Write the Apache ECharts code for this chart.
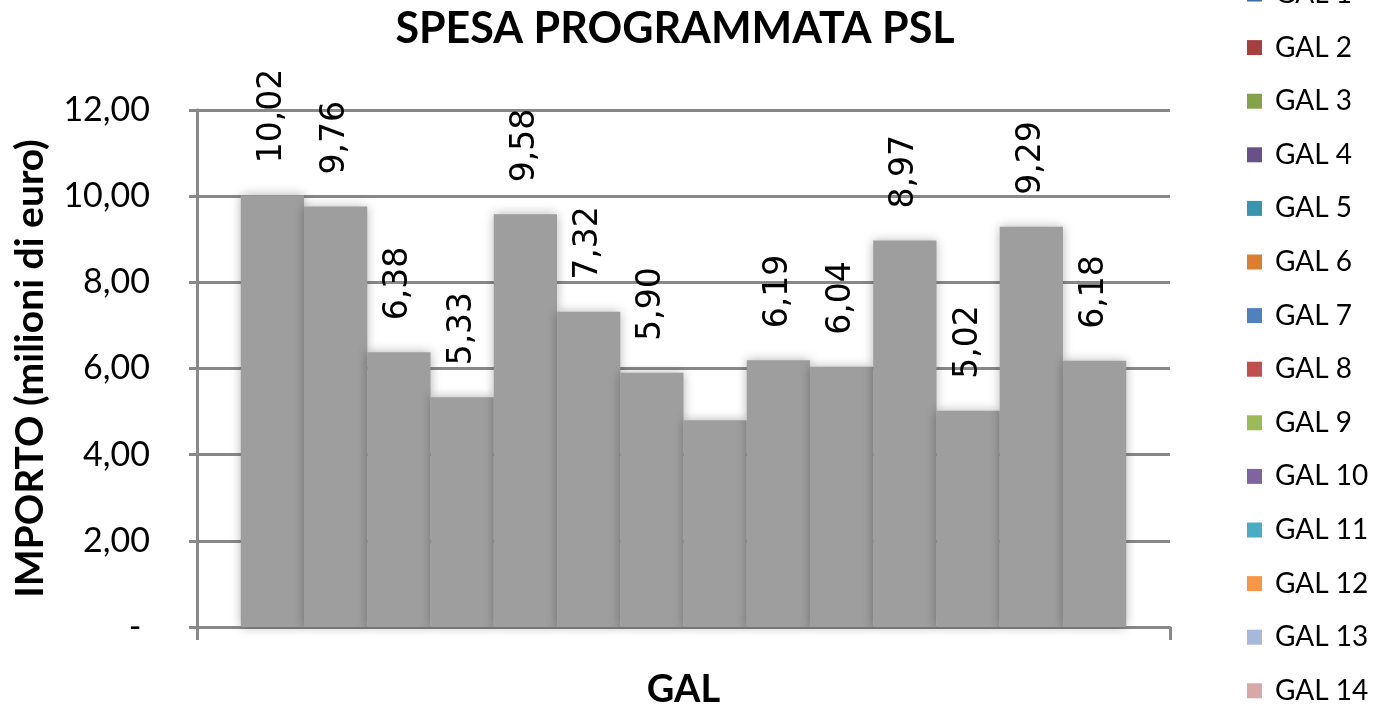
<!DOCTYPE html>
<html><head><meta charset="utf-8">
<script src="https://cdn.jsdelivr.net/npm/echarts@6/dist/echarts.min.js"></script>
<style>html,body{margin:0;padding:0;background:#fff}#c{width:1375px;height:707px}</style>
</head><body><div id="c"></div>
<script>
const categories = ['GAL'];
const seriesNames = ['GAL 1','GAL 2','GAL 3','GAL 4','GAL 5','GAL 6','GAL 7','GAL 8','GAL 9','GAL 10','GAL 11','GAL 12','GAL 13','GAL 14'];
const values = [10.02, 9.76, 6.38, 5.33, 9.58, 7.32, 5.90, 4.80, 6.19, 6.04, 8.97, 5.02, 9.29, 6.18];
const showLabel = [true, true, true, true, true, true, true, false, true, true, true, true, true, true];
const legendColors = ['#3C6DA8','#A5403E','#84A248','#6A5089','#3795AD','#DB7E30','#4F81BD','#C0504D','#9BBB59','#8064A2','#4BACC6','#F79646','#A7B9DA','#D9A7A6'];
const yTicks = [0, 2, 4, 6, 8, 10, 12];

const fmt = v => v.toFixed(2).replace('.', ',');
const chart = echarts.init(document.getElementById('c'));
const series = seriesNames.map((n, i) => ({
  name: n, type: 'bar', barGap: 0, barCategoryGap: '9%',
  data: [{ value: values[i], itemStyle: { color: '#9e9e9e', shadowBlur: 10, shadowColor: 'rgba(0,0,0,0.3)' },
           label: { show: showLabel[i] } }],
  label: { show: true, position: 'top', rotate: 90, distance: 32, align: 'left', verticalAlign: 'middle',
           fontFamily: 'DejaVu Sans', fontSize: 33, color: '#000', formatter: p => fmt(p.value) }
}));
chart.setOption({
  animation: false,
  color: legendColors,
  title: { text: 'SPESA PROGRAMMATA PSL', left: 675, textAlign: 'center', top: 8, padding: 0,
           textStyle: { fontFamily: 'Lato', fontWeight: 'bold', fontSize: 43, color: '#000' } },
  legend: { orient: 'vertical', left: 1247, top: -21, padding: 0, itemWidth: 15, itemHeight: 15, itemGap: 23.6,
            icon: 'rect', data: seriesNames,
            textStyle: { fontFamily: 'Lato', fontSize: 28, lineHeight: 30, color: '#000', padding: [0,0,0,8] } },
  grid: { left: 197, right: 205, top: 110, bottom: 80, containLabel: false, outerBoundsMode: 'none' },
  xAxis: { type: 'category', data: categories, name: 'GAL', nameLocation: 'middle', nameGap: 44,
           nameTextStyle: { fontFamily: 'Lato', fontWeight: 'bold', fontSize: 38, color: '#000' },
           axisLine: { lineStyle: { color: '#888', width: 3 } },
           axisTick: { show: true, length: 13, lineStyle: { color: '#888', width: 3 } },
           axisLabel: { show: false } },
  yAxis: { type: 'value', min: yTicks[0], max: yTicks[yTicks.length-1], interval: 2,
           name: 'IMPORTO (milioni di euro)', nameLocation: 'middle', nameGap: 147, nameRotate: 90,
           nameTextStyle: { fontFamily: 'Lato', fontWeight: 'bold', fontSize: 39, color: '#000' },
           axisLine: { show: true, lineStyle: { color: '#888', width: 3 } },
           axisTick: { show: true, length: 8, lineStyle: { color: '#888', width: 3 } },
           splitLine: { lineStyle: { color: '#888', width: 3 } },
           axisLabel: { fontFamily: 'Lato', fontSize: 34, color: '#000', margin: 47,
                        formatter: v => v === 0 ? '- ' : fmt(v) } },
  series: series
});
</script></body></html>
